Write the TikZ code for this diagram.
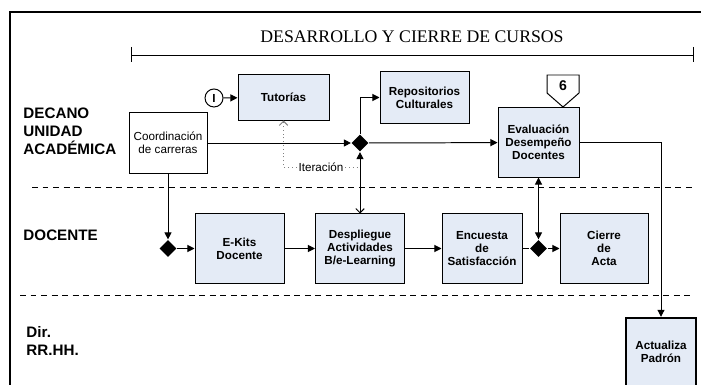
\documentclass[tikz,border=0pt]{standalone}
\usepackage{fontspec}
\setmainfont{Liberation Sans}
\newfontfamily\titlefont{Liberation Serif}
\usetikzlibrary{arrows.meta,shapes.geometric}
\definecolor{boxblue}{RGB}{228,235,246}
\tikzset{proc/.style={rectangle,draw,fill=boxblue,line width=0.7pt,align=center,inner sep=1pt,font=\fontsize{8.3}{9.3}\selectfont\bfseries},
  wbox/.style={rectangle,draw,fill=white,line width=0.7pt,align=center,inner sep=1pt,font=\fontsize{8.3}{9.3}\selectfont},
  gate/.style={diamond,fill=black,inner sep=0pt,minimum width=0.43cm,minimum height=0.43cm},
  lane/.style={anchor=west,align=left,inner sep=0pt,font=\fontsize{10.8}{12.8}\selectfont\bfseries},
  lanesep/.style={dash pattern=on 4.2pt off 3.3pt,line width=0.7pt},
  arr/.style={-{Triangle[length=5pt,width=5pt]}},
  tri/.style={line width=0.7pt}}

\begin{document}
\begin{tikzpicture}[x=0.025cm,y=-0.025cm,line width=0.7pt]
  \useasboundingbox (0,0) rectangle (701,385);
  \draw[line width=1.2pt] (701,12) -- (10,12) -- (10,385);
  \node (title) at (412,37) {\titlefont\fontsize{12.6}{14}\selectfont DESARROLLO Y CIERRE DE CURSOS};
  \draw (131,47) -- (131,62) (131,55) -- (693,55) (693,47) -- (693,62);
  \node[lane] (decano) at (23,131) {DECANO\\UNIDAD\\ACADÉMICA};
  \node[lane] (docente) at (23,235) {DOCENTE};
  \node[lane] (dir) at (26,341) {Dir.\\RR.HH.};
  \draw[lanesep] (32,187) -- (692,187);
  \draw[lanesep] (20,295) -- (692,295);
  \node[circle,draw,minimum size=0.45cm,inner sep=0pt,font=\fontsize{8.3}{9.3}\selectfont\bfseries] (ini) at (214,98) {I};
  \node[proc,minimum width=2.275cm,minimum height=1.125cm] (tut) at (283.5,97.5) {Tutorías};
  \node[wbox,minimum width=1.95cm,minimum height=1.5cm] (coord) at (168,143) {Coordinación\\de carreras};
  \node[proc,minimum width=2.225cm,minimum height=1.275cm] (repo) at (424.5,97.5) {Repositorios\\Culturales};
  \node[gate] (d1) at (360,143) {};
  \node[proc,minimum width=2.025cm,minimum height=1.725cm] (eval) at (538.5,142.5) {Evaluación\\Desempeño\\Docentes};
  \draw[fill=white] (547,75) -- (579,75) -- (579,93) -- (563,107) -- (547,93) -- cycle;
  \node[font=\fontsize{10}{11}\selectfont\bfseries] (six) at (563,86) {6};
  \node[font=\fontsize{8.3}{9.3}\selectfont,inner sep=1pt] (iter) at (321,167) {Iteración};
  \coordinate (itx) at (360,167);
  \node[gate] (d2) at (168,248.5) {};
  \node[proc,minimum width=2.225cm,minimum height=1.725cm] (ekit) at (239.5,248.5) {E-Kits\\Docente};
  \node[proc,minimum width=2.225cm,minimum height=1.725cm] (desp) at (360,248.5) {Despliegue\\Actividades\\B/e-Learning};
  \node[proc,minimum width=2.0cm,minimum height=1.725cm] (enc) at (482,248.5) {Encuesta\\de\\Satisfacción};
  \node[gate] (d3) at (538.5,248.5) {};
  \node[proc,minimum width=2.2cm,minimum height=1.725cm] (cierre) at (604,248.5) {Cierre\\de\\Acta};
  \node[proc,line width=1.7pt,minimum width=1.75cm,minimum height=1.7cm] (act) at (661,352) {Actualiza\\Padrón};
  \draw[arr] (ini) -- (tut);
  \draw[arr] (coord) -- (d1);
  \draw[arr] (d1) -- (eval);
  \draw[arr] (d1.north) |- (repo.west);
  \draw[{Straight Barb[length=3pt,width=6pt]}-{Triangle[length=5pt,width=5pt]}] (desp) -- (d1);
  \draw[gray,dotted,-{Straight Barb[length=3pt,width=6pt]}] (iter.west) -| (tut.south);
  \draw[gray,dotted] (iter.east) -- (itx);
  \draw[arr] (coord) -- (d2);
  \draw[arr] (d2) -- (ekit);
  \draw[arr] (ekit) -- (desp);
  \draw[arr] (desp) -- (enc);
  \draw (enc) -- (d3);
  \draw[arr] (d3) -- (cierre);
  \draw[{Triangle[length=5pt,width=5pt]}-{Triangle[length=5pt,width=5pt]}] (eval) -- (d3);
  \draw[arr] (eval.east) -| (act.north);
\end{tikzpicture}
\end{document}
